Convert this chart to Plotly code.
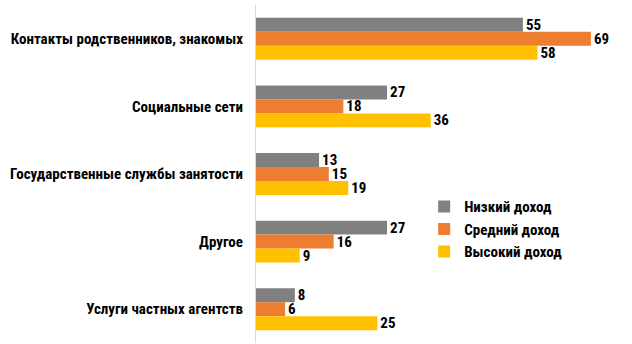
import plotly.graph_objects as go

categories = ["Контакты родственников, знакомых", "Социальные сети",
              "Государственные службы занятости", "Другое", "Услуги частных агентств"]
series_names = ["Низкий доход", "Средний доход", "Высокий доход"]
low = [55, 27, 13, 27, 8]
mid = [69, 18, 15, 16, 6]
high = [58, 36, 19, 9, 25]
colors = ["#808080", "#ED7D31", "#FFC000"]

FONT = "Liberation Sans Narrow, Arial Narrow, Roboto Condensed, sans-serif"

fig = go.Figure()
for name, vals, col in zip(series_names, [low, mid, high], colors):
    fig.add_trace(go.Bar(
        y=categories, x=vals, name=name, orientation="h",
        marker=dict(color=col, line=dict(width=0)),
        text=[str(v) for v in vals], textposition="outside",
        constraintext="none",
        textfont=dict(family=FONT, size=15, color="#000000", weight="bold"),
        cliponaxis=False,
    ))

fig.update_layout(
    width=632, height=344,
    margin=dict(l=256, r=12, t=5, b=1),
    paper_bgcolor="white", plot_bgcolor="white",
    barmode="group", bargap=0.38, bargroupgap=0,
    font=dict(family=FONT, size=15, color="#000000"),
    showlegend=True,
    legend=dict(x=0.462, y=0.452, xanchor="left", yanchor="top",
                font=dict(family=FONT, size=15, color="#000000", weight="bold"),
                bgcolor="rgba(0,0,0,0)", itemwidth=30, tracegroupgap=0),
)
fig.update_xaxes(range=[0, 75], showgrid=False, zeroline=False, showticklabels=False,
                 showline=False)
fig.update_yaxes(autorange="reversed", showgrid=False, zeroline=False,
                 showline=True, linecolor="#D9D9D9", linewidth=1,
                 ticks="", ticklabelstandoff=9,
                 tickfont=dict(family=FONT, size=15, color="#000000", weight="bold"))

fig.write_html("out.html")
